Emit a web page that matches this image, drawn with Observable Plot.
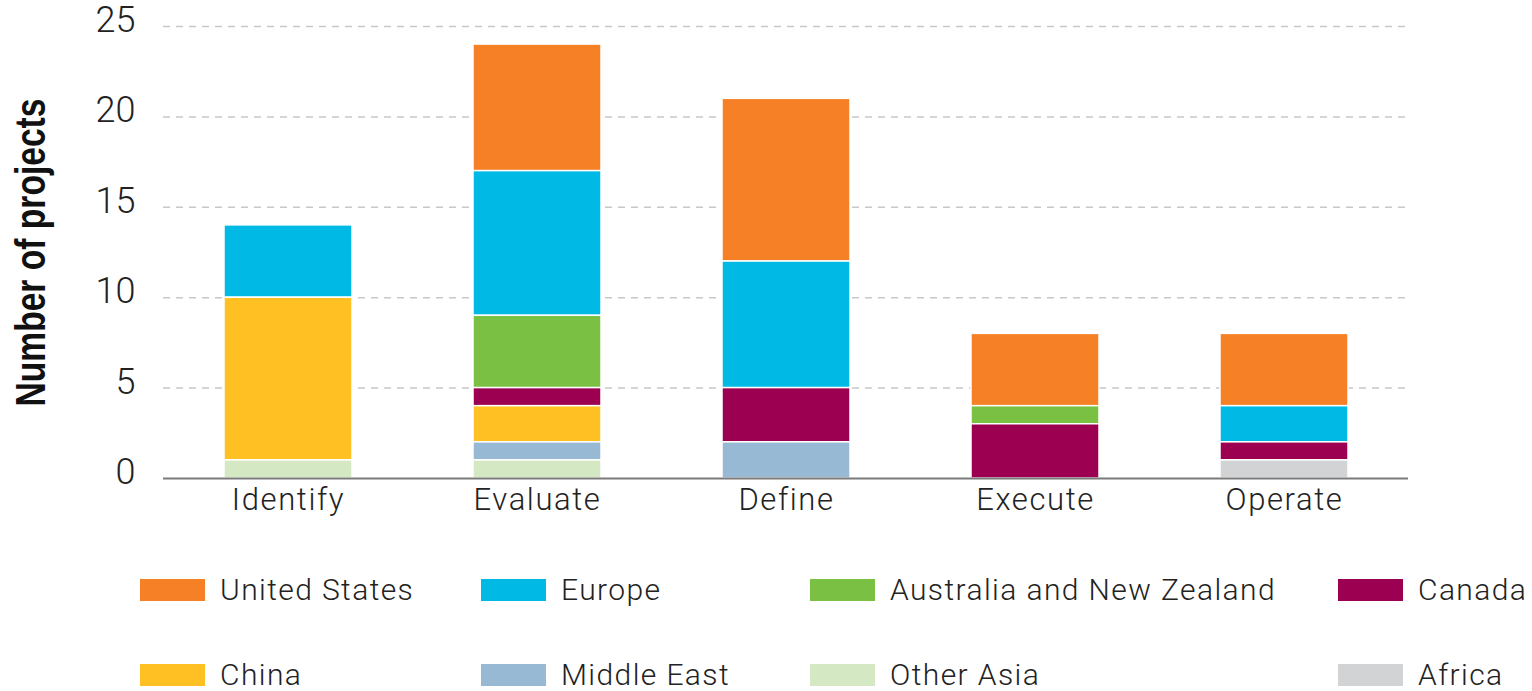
<!DOCTYPE html>
<html>
<head>
<meta charset="utf-8">
<script src="https://cdn.jsdelivr.net/npm/d3@7"></script>
<script src="https://cdn.jsdelivr.net/npm/@observablehq/plot@0.6"></script>
<style>
  html, body { margin: 0; padding: 0; background: #fff; }
  body { width: 1532px; height: 691px; overflow: hidden; font-family: Roboto, "Liberation Sans", sans-serif; }
  #chart svg { display: block; }
  #chart svg text { font-family: Roboto, "Liberation Sans", sans-serif; font-weight: 300; }
  #chart svg g[aria-label="x-axis tick label"] text { letter-spacing: 1.6px; }
  #chart svg .ytitle text { font-family: "Liberation Sans", Arial, sans-serif; font-weight: 700; }
  .legend { position: relative; height: 156px; }
  .item { position: absolute; display: flex; align-items: center; height: 30px; line-height: 30px; font-size: 30px; font-weight: 300; color: #222; letter-spacing: 1.4px; white-space: nowrap; }
  .sw { width: 65px; height: 22px; margin-right: 15px; }
</style>
</head>
<body>
<div id="chart"></div>
<div class="legend" id="legend"></div>
<script>
// ---- data ----
const stages = ["Identify", "Evaluate", "Define", "Execute", "Operate"];
const regions = ["United States", "Europe", "Australia and New Zealand", "Canada", "China", "Middle East", "Other Asia", "Africa"];
const colors = ["#F58025", "#00B9E4", "#7AC143", "#9B0051", "#FFC024", "#98B9D3", "#D4E8C4", "#D1D3D4"];
// values per region, in stage order
const unitedStates = [0, 7, 9, 4, 4];
const europe       = [4, 8, 7, 0, 2];
const australiaNZ  = [0, 4, 0, 1, 0];
const canada       = [0, 1, 3, 3, 1];
const china        = [9, 2, 0, 0, 0];
const middleEast   = [0, 1, 2, 0, 0];
const otherAsia    = [1, 1, 0, 0, 0];
const africa       = [0, 0, 0, 0, 1];
const yTicks = [0, 5, 10, 15, 20, 25];
const yTitle = "Number of projects";
// stacking order, bottom to top
const stackOrder = ["Africa", "Other Asia", "Middle East", "China", "Canada", "Australia and New Zealand", "Europe", "United States"];

const seriesValues = [unitedStates, europe, australiaNZ, canada, china, middleEast, otherAsia, africa];
const table = [];
regions.forEach((r, i) => stages.forEach((s, j) => {
  if (seriesValues[i][j] > 0) table.push({stage: s, region: r, value: seriesValues[i][j]});
}));

const W = 1532, H = 535;
const chart = Plot.plot({
  width: W,
  height: H,
  marginLeft: 163,
  marginRight: 124,
  marginTop: 26,
  marginBottom: 57,
  style: {background: "#fff", color: "#222", overflow: "visible"},
  x: {domain: stages, paddingInner: 0.486, paddingOuter: 0.243, label: null},
  y: {domain: [0, 25], label: null},
  color: {domain: regions, range: colors},
  marks: [
    Plot.ruleY(yTicks.filter(d => d > 0), {stroke: "#c8c8c8", strokeWidth: 1.5, strokeDasharray: "7,6"}),
    Plot.barY(table, {x: "stage", y: "value", fill: "region", order: stackOrder, stroke: "#fff", strokeWidth: 1.5}),
    Plot.ruleY([0], {stroke: "#7a7a7a", strokeWidth: 2}),
    Plot.axisY({ticks: yTicks, tickSize: 0, tickPadding: 28, fontSize: 36, dy: -6, label: null}),
    Plot.axisX({tickSize: 0, tickPadding: 9, fontSize: 31, label: null}),
    Plot.text([yTitle], {frameAnchor: "left", textAnchor: "middle", rotate: -90, dx: -132, fontSize: 43, fontWeight: 700, fill: "#111", className: "ytitle"})
  ]
});
document.getElementById("chart").appendChild(chart);
d3.select(chart).selectAll(".ytitle text")
  .attr("textLength", 308)
  .attr("lengthAdjust", "spacingAndGlyphs");

// ---- legend ----
const legendOrder = ["United States", "Europe", "Australia and New Zealand", "Canada", "China", "Middle East", "Other Asia", "Africa"];
const colX = [140, 481, 810, 1338];
const rowY = [55, 140];
const legend = document.getElementById("legend");
legendOrder.forEach((r, k) => {
  const item = document.createElement("div");
  item.className = "item";
  item.style.left = colX[k % 4] + "px";
  item.style.top = (rowY[Math.floor(k / 4)] - 15) + "px";
  const sw = document.createElement("div");
  sw.className = "sw";
  sw.style.background = colors[regions.indexOf(r)];
  const t = document.createElement("span");
  t.textContent = r;
  item.appendChild(sw);
  item.appendChild(t);
  legend.appendChild(item);
});
</script>
</body>
</html>
